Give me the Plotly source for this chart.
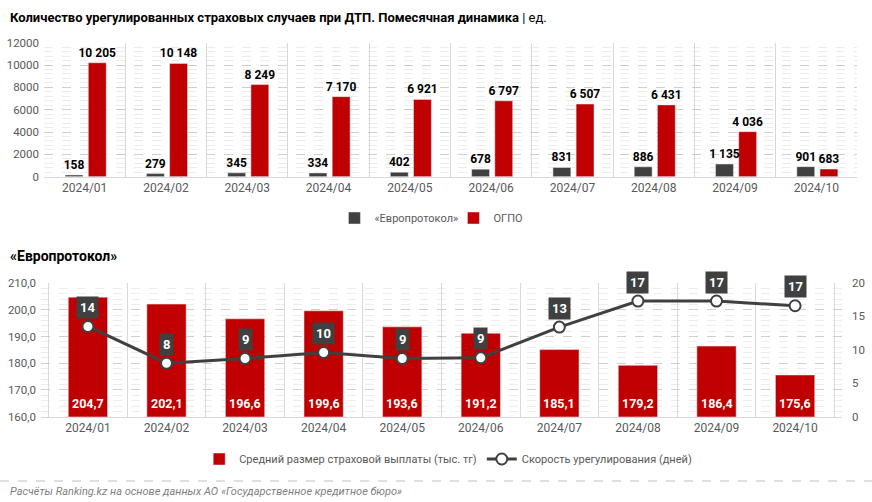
import plotly.graph_objects as go

months = ["2024/01", "2024/02", "2024/03", "2024/04", "2024/05",
          "2024/06", "2024/07", "2024/08", "2024/09", "2024/10"]
euro_cases = [158, 279, 345, 334, 402, 678, 831, 886, 1135, 901]
ogpo_cases = [10205, 10148, 8249, 7170, 6921, 6797, 6507, 6431, 4036, 683]
avg_payout = [204.7, 202.1, 196.6, 199.6, 193.6, 191.2, 185.1, 179.2, 186.4, 175.6]
speed_days = [13.5, 8.0, 8.7, 9.6, 8.7, 8.8, 13.4, 17.3, 17.3, 16.6]
speed_labels = ["14", "8", "9", "10", "9", "9", "13", "17", "17", "17"]

FONT = "Roboto"
DARK = "#404040"
RED = "#C00000"
GREY = "#595959"
GRID = "#D9D9D9"


def thousands(v):
    return f"{v:,}".replace(",", " ")


def dec(v):
    return f"{v:.1f}".replace(".", ",")


W, H = 872, 502


def px_x(x):
    return x / W


def px_y(y):
    return 1 - y / H


fig = go.Figure()

label_font = dict(family=FONT, size=12, color="#000000", weight="bold")

# Top chart (red drawn first so the dark-bar labels stay on top)
fig.add_trace(go.Bar(
    x=months, y=ogpo_cases, name="ОГПО", marker_color=RED,
    offset=0.045, width=0.22,
    text=[thousands(v) for v in ogpo_cases], textposition="outside", constraintext="none",
    textfont=label_font, cliponaxis=False, xaxis="x", yaxis="y", legend="legend",
))
fig.add_trace(go.Bar(
    x=months, y=euro_cases, name="«Европротокол»", marker_color=DARK,
    offset=-0.24, width=0.22,
    text=[thousands(v) for v in euro_cases], textposition="outside", constraintext="none",
    textfont=label_font, cliponaxis=False, xaxis="x", yaxis="y", legend="legend",
))

# Bottom chart
fig.add_trace(go.Bar(
    x=months, y=avg_payout, name="Средний размер страховой выплаты (тыс. тг)",
    marker_color=RED, width=0.5, xaxis="x2", yaxis="y3", legend="legend2",
))
fig.add_trace(go.Scatter(
    x=months, y=speed_days, name="Скорость урегулирования (дней)",
    mode="lines+markers", line=dict(color=DARK, width=3),
    marker=dict(size=11, color="#FFFFFF", line=dict(color=DARK, width=2)),
    xaxis="x2", yaxis="y4", legend="legend2",
))

ymin_bottom = 160
annotations = []
for m, v in zip(months, avg_payout):
    annotations.append(dict(
        x=m, y=ymin_bottom, xref="x2", yref="y3", text=f"<b>{dec(v)}</b>",
        showarrow=False, yanchor="bottom", yshift=4,
        font=dict(family=FONT, size=12.5, color="#FFFFFF"),
    ))
for m, v, lab in zip(months, speed_days, speed_labels):
    annotations.append(dict(
        x=m, y=v, xref="x2", yref="y4", text=f"<b>{lab}</b>", showarrow=False,
        yshift=19, bgcolor=DARK, borderpad=3,
        font=dict(family=FONT, size=13, color="#FFFFFF"),
    ))

annotations += [
    dict(x=8 / W, y=px_y(18), xref="paper", yref="paper", xanchor="left", yanchor="middle",
         showarrow=False,
         text="<b>Количество урегулированных страховых случаев при ДТП. Помесячная динамика</b> | ед.",
         font=dict(family=FONT, size=13, color="#000000")),
    dict(x=8 / W, y=px_y(256), xref="paper", yref="paper", xanchor="left", yanchor="middle",
         showarrow=False, text="<b>«Европротокол»</b>",
         font=dict(family=FONT, size=14, color="#000000")),
    dict(x=8 / W, y=px_y(491), xref="paper", yref="paper", xanchor="left", yanchor="middle",
         showarrow=False,
         text="<i>Расчёты Ranking.kz на основе данных АО «Государственное кредитное бюро»</i>",
         font=dict(family=FONT, size=11, color="#7F7F7F")),
]

common_y = dict(
    showgrid=True, gridcolor="#CFCFCF", griddash="dash", gridwidth=1,
    zeroline=False, tickfont=dict(family=FONT, size=11.5, color=GREY),
    ticks="", showline=False, automargin=False, ticklabelstandoff=4,
)
common_x = dict(
    type="category", tickson="boundaries", showgrid=True, gridcolor=GRID,
    ticks="", showline=True, linecolor=GRID, automargin=False,
    tickfont=dict(family=FONT, size=12, color=GREY),
)

fig.update_layout(
    width=W, height=H, autosize=False,
    margin=dict(l=0, r=0, t=0, b=0, pad=0, autoexpand=False),
    paper_bgcolor="#FFFFFF", plot_bgcolor="#FFFFFF",
    separators=", ",
    barmode="overlay",
    font=dict(family=FONT, color=GREY),
    xaxis=dict(domain=[px_x(44), px_x(857)], anchor="y", **common_x),
    yaxis=dict(domain=[px_y(176.7), px_y(42.7)], anchor="x", range=[0, 12000],
               dtick=2000, tickformat="d",
               minor=dict(dtick=400, showgrid=True, gridcolor="#EDEDED", gridwidth=1),
               **common_y),
    xaxis2=dict(domain=[px_x(41), px_x(842)], anchor="y3", **common_x),
    yaxis3=dict(domain=[px_y(416.7), px_y(283)], anchor="x2", range=[160, 210],
                dtick=10, tickformat=".1f",
                minor=dict(dtick=2, showgrid=True, gridcolor="#EDEDED", gridwidth=1),
                **common_y),
    yaxis4=dict(overlaying="y3", side="right", anchor="x2", range=[0, 20], dtick=5,
                showgrid=False, zeroline=False, ticks="", automargin=False,
                ticklabelstandoff=9,
                tickfont=dict(family=FONT, size=11.5, color=GREY)),
    legend=dict(orientation="h", x=0.52, xanchor="center", y=px_y(218), yanchor="middle",
                font=dict(family=FONT, size=11, color=GREY), itemwidth=30,
                entrywidth=74, entrywidthmode="pixels", traceorder="reversed",
                bgcolor="rgba(0,0,0,0)"),
    legend2=dict(orientation="h", x=0.514, xanchor="center", y=px_y(459), yanchor="middle",
                 font=dict(family=FONT, size=11, color=GREY),
                 bgcolor="rgba(0,0,0,0)"),
    annotations=annotations,
    shapes=[dict(type="line", xref="paper", yref="paper", x0=0, x1=1,
                 y0=px_y(481), y1=px_y(481),
                 line=dict(color="#BFBFBF", width=1, dash="dash"))],
)

fig.write_html("out.html", config={"displayModeBar": False},
               post_script="document.body.style.margin='0';document.body.style.overflow='hidden';")
